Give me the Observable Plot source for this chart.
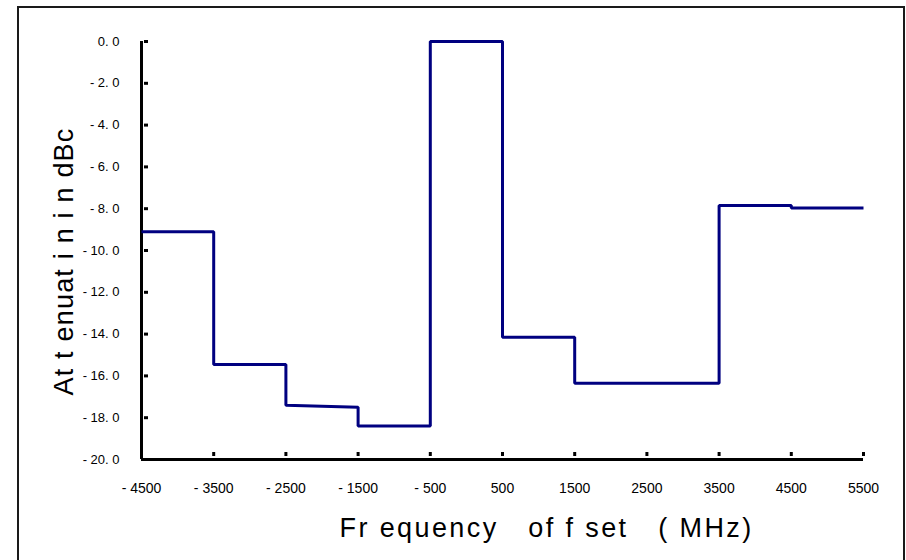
<!DOCTYPE html>
<html><head><meta charset="utf-8">
<script src="https://cdn.jsdelivr.net/npm/d3@7"></script>
<script src="https://cdn.jsdelivr.net/npm/@observablehq/plot@0.6"></script>
<style>
html,body{margin:0;padding:0;background:#fff;overflow:hidden}
#wrap{position:relative;width:906px;height:560px;overflow:hidden;background:#fff}
#box{position:absolute;left:17px;top:6px;width:888px;height:620px;border:2px solid #1a1a1a;box-sizing:border-box}
#chart{position:absolute;left:0;top:0}
#chart text{white-space:pre}
</style></head><body>
<div id="wrap"><div id="box"></div><div id="chart"></div></div>
<script>
// Frequency offset (MHz) corner points of the stepped curve
const freqMHz = [-4500, -3500, -3500, -2500, -2500, -1500, -1500, -500, -500, 500, 500, 1500, 1500, 3500, 3500, 4500, 4500, 5500];
// Attenuation (dBc) at each corner point
const attenuationDbc = [-9.1, -9.1, -15.45, -15.45, -17.4, -17.5, -18.4, -18.4, 0, 0, -14.15, -14.15, -16.35, -16.35, -7.85, -7.85, -7.97, -7.97];
const xTicks = [-4500, -3500, -2500, -1500, -500, 500, 1500, 2500, 3500, 4500, 5500];
const yTicks = [0, -2, -4, -6, -8, -10, -12, -14, -16, -18, -20];
const xDomain = [-4500, 5500];
const yDomain = [-20, 0];
const xTitle = "Fr equency   of f set   ( MHz)";
const yTitle = "At t enuat i n i n dBc";

const rows = freqMHz.map((x, i) => ({x, y: attenuationDbc[i]}));
const W = 906, H = 560, mL = 141, mR = 43, mT = 41, mB = 101;
const fmtX = d => d < 0 ? "- " + Math.abs(d) : String(d);
const fmtY = d => (d < 0 ? "- " : "") + Math.abs(d).toFixed(1).replace(".", ". ");

const chart = Plot.plot({
  width: W, height: H,
  marginLeft: mL, marginRight: mR, marginTop: mT, marginBottom: mB,
  style: {background: "transparent", fontFamily: "'Liberation Sans', Arial, sans-serif", color: "#000"},
  x: {domain: xDomain},
  y: {domain: yDomain},
  marks: [
    Plot.axisY({ticks: yTicks, tickSize: 0, tickPadding: 22, tickFormat: fmtY, fontSize: 13, label: null}),
    Plot.axisX({ticks: xTicks, tickSize: 0, tickPadding: 24, tickFormat: fmtX, fontSize: 14, label: null}),
    Plot.ruleX([xDomain[0]], {stroke: "#000", strokeWidth: 3}),
    Plot.ruleY([yDomain[0]], {stroke: "#000", strokeWidth: 3}),
    Plot.tickY(yTicks, {y: d => d, stroke: "#000", strokeWidth: 3, dx: 3, insetLeft: 0, insetRight: W - mL - mR - 4, ariaHidden: true}),
    Plot.tickX(xTicks, {x: d => d, stroke: "#000", strokeWidth: 3, dy: -3, insetTop: H - mT - mB - 4, ariaHidden: true}),
    Plot.line(rows, {x: "x", y: "y", stroke: "#000080", strokeWidth: 3, strokeLinejoin: "miter", strokeLinecap: "butt", curve: "linear"}),
    Plot.text([xTitle], {text: d => d, frameAnchor: "bottom-left", textAnchor: "start", lineAnchor: "middle", dx: 198, dy: 69, fontSize: 27, fill: "#000"}),
    Plot.text([yTitle], {text: d => d, frameAnchor: "left", textAnchor: "middle", lineAnchor: "middle", rotate: -90, dx: -77, dy: 11, fontSize: 27, fill: "#000"})
  ]
});
chart.querySelectorAll("text").forEach(t => {
  if (t.textContent === xTitle) t.style.letterSpacing = "2.4px";
  if (t.textContent === yTitle) t.style.letterSpacing = "1.2px";
});
document.getElementById("chart").appendChild(chart);
</script>
</body></html>
